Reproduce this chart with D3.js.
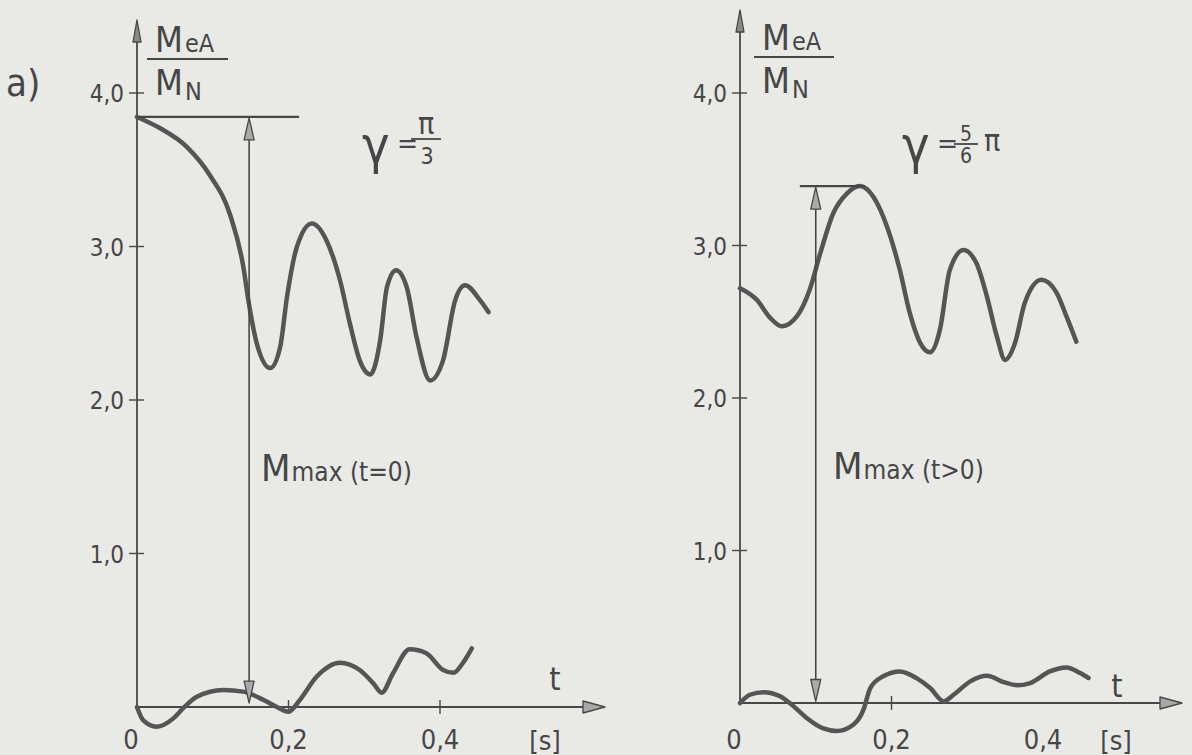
<!DOCTYPE html>
<html>
<head>
<meta charset="utf-8">
<script src="https://cdn.jsdelivr.net/npm/d3@7"></script>
<style>
  body { margin: 0; background: #e9e9e6; }
  svg { display: block; }
  text { font-family: "DejaVu Sans", sans-serif; font-stretch: condensed; fill: #464646; }
</style>
</head>
<body>
<div id="chart"></div>
<script>
// axis ticks
var yTicks = [1, 2, 3, 4];
var yTickLabels = ["1,0", "2,0", "3,0", "4,0"];
var xTicks = [0, 0.2, 0.4];
var xTickLabels = ["0", "0,2", "0,4"];

// a) gamma = pi/3 : upper curve M_eA/M_N
var timeA = [0, 0.030, 0.066, 0.096, 0.123, 0.140, 0.148, 0.158, 0.176, 0.189, 0.198, 0.211, 0.231, 0.250, 0.268, 0.281, 0.294, 0.308, 0.321, 0.330, 0.342, 0.356, 0.369, 0.387, 0.404, 0.420, 0.433, 0.453, 0.464];
var torqueA = [3.844, 3.772, 3.648, 3.466, 3.205, 2.879, 2.619, 2.371, 2.208, 2.345, 2.671, 2.997, 3.150, 3.041, 2.780, 2.499, 2.258, 2.166, 2.388, 2.736, 2.845, 2.736, 2.410, 2.127, 2.258, 2.649, 2.747, 2.649, 2.573];
// a) lower curve
var timeA2 = [0, 0.008, 0.026, 0.048, 0.061, 0.079, 0.114, 0.140, 0.167, 0.184, 0.200, 0.215, 0.237, 0.268, 0.294, 0.312, 0.323, 0.338, 0.360, 0.382, 0.404, 0.418, 0.430, 0.442];
var torqueA2 = [0, -0.085, -0.128, -0.074, -0.008, 0.067, 0.111, 0.100, 0.046, 0.002, -0.031, 0.046, 0.197, 0.289, 0.241, 0.154, 0.093, 0.220, 0.376, 0.350, 0.241, 0.223, 0.285, 0.382];
var maxA = 3.844, maxTimeA = 0.148, maxBarA = [0, 0.214], arrowEndA = 0.025;

// b) gamma = 5/6 pi : upper curve
var timeB = [0, 0.022, 0.040, 0.055, 0.075, 0.092, 0.106, 0.123, 0.141, 0.158, 0.176, 0.194, 0.211, 0.224, 0.238, 0.251, 0.264, 0.277, 0.295, 0.312, 0.326, 0.339, 0.350, 0.363, 0.376, 0.398, 0.418, 0.431, 0.444];
var torqueB = [2.72, 2.645, 2.525, 2.47, 2.535, 2.71, 2.95, 3.21, 3.34, 3.39, 3.32, 3.125, 2.84, 2.56, 2.36, 2.30, 2.45, 2.84, 2.97, 2.885, 2.665, 2.405, 2.25, 2.36, 2.625, 2.775, 2.69, 2.535, 2.37];
// b) lower curve
var timeB2 = [0, 0.013, 0.031, 0.053, 0.068, 0.088, 0.110, 0.128, 0.150, 0.163, 0.172, 0.189, 0.211, 0.233, 0.251, 0.269, 0.282, 0.304, 0.326, 0.348, 0.366, 0.383, 0.409, 0.431, 0.449, 0.460];
var torqueB2 = [0, 0.054, 0.071, 0.044, -0.010, -0.098, -0.167, -0.184, -0.141, -0.044, 0.098, 0.175, 0.207, 0.163, 0.098, 0.011, 0.054, 0.142, 0.179, 0.137, 0.116, 0.131, 0.207, 0.233, 0.196, 0.164];
var maxB = 3.39, maxTimeB = 0.100, maxBarB = [0.079, 0.165], arrowEndB = 0.01;

var svg = d3.select("#chart").append("svg")
    .attr("width", 1192)
    .attr("height", 755);

var ink = "#474747";

function arrowHead(g, tx, ty, dir, len, hw, fill) {
    var p;
    if (dir == "up") p = [[tx, ty], [tx - hw, ty + len], [tx + hw, ty + len]];
    if (dir == "down") p = [[tx, ty], [tx - hw, ty - len], [tx + hw, ty - len]];
    if (dir == "right") p = [[tx, ty], [tx - len, ty - hw], [tx - len, ty + hw]];
    g.append("path")
        .attr("d", "M" + p.join("L") + "Z")
        .attr("fill", fill)
        .attr("stroke", ink)
        .attr("stroke-width", 1.3)
        .attr("stroke-linejoin", "round");
}

function drawPanel(c) {
    var x = d3.scaleLinear().domain([0, 0.4]).range(c.xRange);
    var y = d3.scaleLinear().domain([0, 4]).range(c.yRange);
    var g = svg.append("g");
    var x0 = x(0), y0 = y(0);

    // axes
    g.append("line").attr("x1", x0).attr("x2", x0).attr("y1", y0).attr("y2", c.yTop + 6)
        .attr("stroke", ink).attr("stroke-width", 1.8);
    arrowHead(g, x0, c.yTop, "up", 22, 4, "#8a8a8a");
    g.append("line").attr("x1", x0).attr("x2", c.xEnd - 18).attr("y1", y0).attr("y2", y0)
        .attr("stroke", ink).attr("stroke-width", 1.8);
    arrowHead(g, c.xEnd, y0, "right", 22, 6, "#a8a8a8");

    // y ticks
    g.selectAll(".yt").data(yTicks).enter().append("line")
        .attr("x1", x0 - 8).attr("x2", x0 + 7)
        .attr("y1", d => y(d)).attr("y2", d => y(d))
        .attr("stroke", ink).attr("stroke-width", 1.4);
    g.selectAll(".yl").data(yTicks).enter().append("text")
        .attr("x", x0 - 13).attr("y", d => y(d) + 9)
        .attr("text-anchor", "end").attr("font-size", 24)
        .text((d, i) => yTickLabels[i]);

    // x ticks
    g.selectAll(".xt").data(c.xTickMarks).enter().append("line")
        .attr("x1", d => x(d)).attr("x2", d => x(d))
        .attr("y1", y0 - 7).attr("y2", y0 + 7)
        .attr("stroke", ink).attr("stroke-width", 1.4);
    g.selectAll(".xl").data(xTicks).enter().append("text")
        .attr("x", (d, i) => x(d) + (i == 0 ? -6 : 0)).attr("y", 749)
        .attr("text-anchor", "middle").attr("font-size", 27)
        .text((d, i) => xTickLabels[i]);
    g.append("text").attr("x", c.sX).attr("y", 750).attr("text-anchor", "middle")
        .attr("font-size", 27).text("[s]");
    g.append("text").attr("x", c.tX).attr("y", c.tY).attr("text-anchor", "middle")
        .attr("font-size", 32).text("t");

    // curves
    var line = d3.line()
        .x(d => x(d[0]))
        .y(d => y(d[1]))
        .curve(d3.curveMonotoneX);
    [[c.t1, c.v1], [c.t2, c.v2]].forEach(function(s) {
        g.append("path")
            .datum(s[0].map((t, i) => [t, s[1][i]]))
            .attr("d", line)
            .attr("fill", "none")
            .attr("stroke", "#555")
            .attr("stroke-width", 4.5)
            .attr("stroke-linecap", "round")
            .attr("stroke-linejoin", "round");
    });

    // M max marker
    g.append("line").attr("x1", x(c.bar[0])).attr("x2", x(c.bar[1]))
        .attr("y1", y(c.max)).attr("y2", y(c.max))
        .attr("stroke", ink).attr("stroke-width", 2.2);
    var ax = x(c.maxT);
    g.append("line").attr("x1", ax).attr("x2", ax)
        .attr("y1", y(c.max) + 18).attr("y2", y(c.arrowEnd) - 18)
        .attr("stroke", ink).attr("stroke-width", 1.6);
    arrowHead(g, ax, y(c.max) + 1, "up", 22, 5, "#aaa");
    arrowHead(g, ax, y(c.arrowEnd), "down", 22, 5, "#aaa");

    var m = g.append("text").attr("x", c.mX).attr("y", c.mY);
    m.append("tspan").attr("font-size", 38).text("M");
    m.append("tspan").attr("font-size", 26).attr("dx", 1).text(c.mSub);

    // y label M_eA / M_N
    var l1 = g.append("text").attr("x", c.lX).attr("y", c.lY);
    l1.append("tspan").attr("font-size", 36).text("M");
    l1.append("tspan").attr("font-size", 25).attr("dx", 2).text("eA");
    g.append("line").attr("x1", c.lX - 8).attr("x2", c.lX + c.lW)
        .attr("y1", c.lY + 7).attr("y2", c.lY + 7)
        .attr("stroke", ink).attr("stroke-width", 2);
    var l2 = g.append("text").attr("x", c.lX).attr("y", c.lY + 43);
    l2.append("tspan").attr("font-size", 36).text("M");
    l2.append("tspan").attr("font-size", 25).attr("dx", 2).attr("dy", 5).text("N");

    // gamma annotation
    g.append("text").attr("x", c.gX).attr("y", 163).attr("font-size", 52)
        .attr("transform", "scale(1,1)").text("γ");
    g.append("text").attr("x", c.gX + 35).attr("y", 153).attr("font-size", 28).text("=");
    c.gammaText(g);
}

drawPanel({
    xRange: [137, 440], yRange: [707, 93], yTop: 20, xEnd: 605,
    xTickMarks: [0.2, 0.4], sX: 545, tX: 555, tY: 690,
    t1: timeA, v1: torqueA, t2: timeA2, v2: torqueA2,
    max: maxA, maxT: maxTimeA, bar: maxBarA, arrowEnd: arrowEndA,
    mX: 261, mY: 481, mSub: "max (t=0)",
    lX: 155, lY: 52, lW: 73,
    gX: 362,
    gammaText: function(g) {
        g.append("text").attr("x", 426).attr("y", 134).attr("text-anchor", "middle")
            .attr("font-size", 30).text("π");
        g.append("line").attr("x1", 411).attr("x2", 441).attr("y1", 139).attr("y2", 139)
            .attr("stroke", ink).attr("stroke-width", 1.8);
        g.append("text").attr("x", 427).attr("y", 164).attr("text-anchor", "middle")
            .attr("font-size", 23).text("3");
    }
});

drawPanel({
    xRange: [740, 1043], yRange: [703, 93], yTop: 10, xEnd: 1182,
    xTickMarks: [0.2], sX: 1116, tX: 1117, tY: 697,
    t1: timeB, v1: torqueB, t2: timeB2, v2: torqueB2,
    max: maxB, maxT: maxTimeB, bar: maxBarB, arrowEnd: arrowEndB,
    mX: 833, mY: 479, mSub: "max (t>0)",
    lX: 762, lY: 50, lW: 72,
    gX: 902,
    gammaText: function(g) {
        g.append("text").attr("x", 966).attr("y", 141).attr("text-anchor", "middle")
            .attr("font-size", 21).text("5");
        g.append("line").attr("x1", 954).attr("x2", 978).attr("y1", 144).attr("y2", 144)
            .attr("stroke", ink).attr("stroke-width", 1.8);
        g.append("text").attr("x", 966).attr("y", 163).attr("text-anchor", "middle")
            .attr("font-size", 21).text("6");
        g.append("text").attr("x", 984).attr("y", 151).attr("font-size", 30).text("π");
    }
});

svg.append("text").attr("x", 6).attr("y", 96).attr("font-size", 38).text("a)");
</script>
</body>
</html>
